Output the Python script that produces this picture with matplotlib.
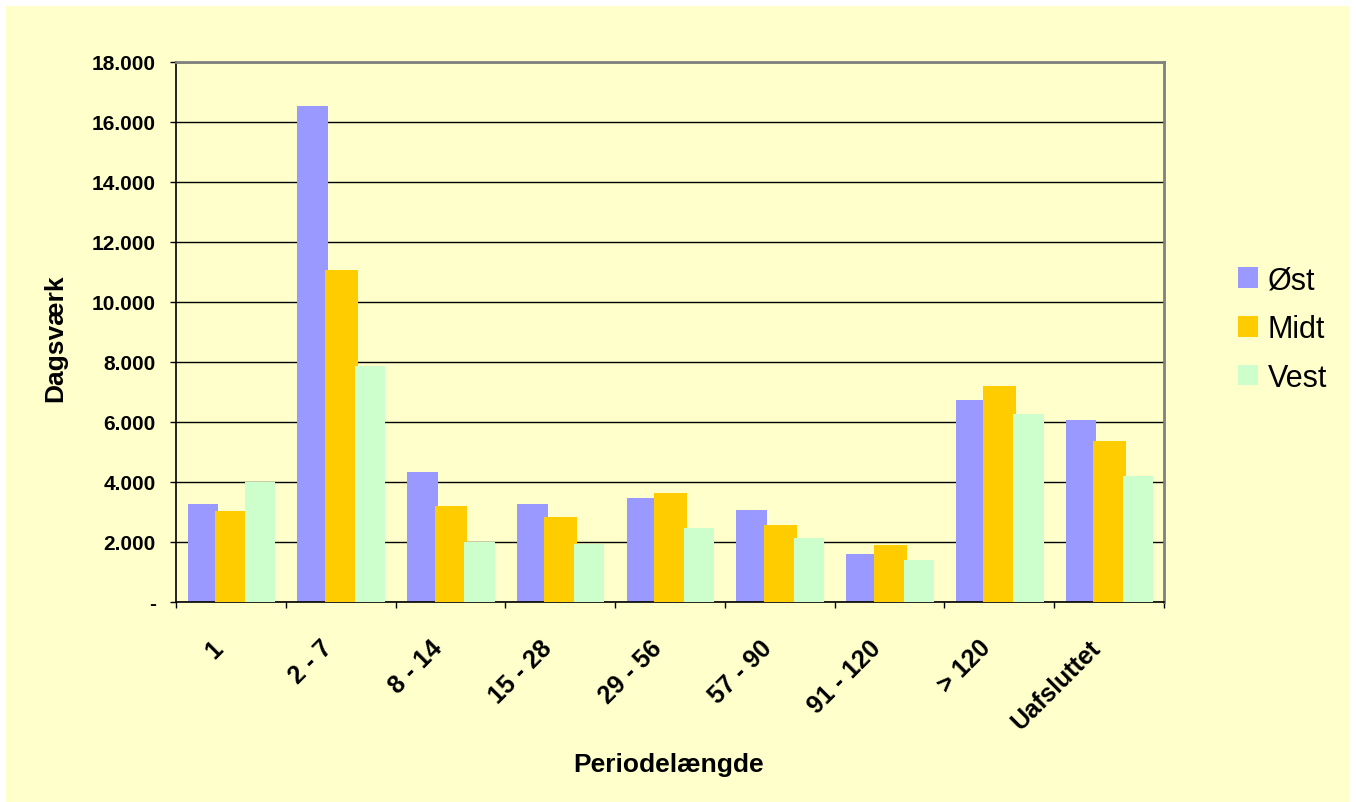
import matplotlib
matplotlib.use("Agg")
import matplotlib.pyplot as plt
import matplotlib.transforms as mtransforms
from matplotlib.patches import Rectangle
from matplotlib.ticker import FuncFormatter, FixedLocator
import numpy as np

plt.rcParams['font.family'] = ['Liberation Sans', 'DejaVu Sans']

categories = ["1", "2 - 7", "8 - 14", "15 - 28", "29 - 56", "57 - 90", "91 - 120", "> 120", "Uafsluttet"]
oest = [3270, 16530, 4330, 3270, 3470, 3070, 1600, 6730, 6070]
midt = [3020, 11070, 3210, 2820, 3620, 2560, 1890, 7210, 5360]
vest = [4010, 7870, 2000, 1930, 2470, 2130, 1400, 6270, 4200]
series_names = ["Øst", "Midt", "Vest"]
colors = ["#9999FF", "#FFCC00", "#CCFFCC"]
bg = "#FFFFCC"

W, H = 1356, 803
fig = plt.figure(figsize=(W / 100, H / 100), dpi=100, facecolor="white")
fig.patches.append(Rectangle((6 / W, 0), (1349 - 6) / W, 1 - 7 / H, transform=fig.transFigure,
                             facecolor=bg, edgecolor="none", zorder=-10))

ax = fig.add_axes([176 / W, (H - 603) / H, 988 / W, 540 / H])
ax.set_facecolor(bg)

x = np.arange(len(categories))
ax.bar(x - 0.255, oest, width=0.28, color=colors[0], zorder=2, label=series_names[0])
ax.bar(x + 0.005, midt, width=0.30, color=colors[1], zorder=3, label=series_names[1])
ax.bar(x + 0.265, vest, width=0.275, color=colors[2], zorder=4, label=series_names[2])

ax.set_xlim(-0.5, len(categories) - 0.5)
ax.set_ylim(0, 18000)
ax.set_yticks(np.arange(0, 18001, 2000))
ax.yaxis.set_major_formatter(FuncFormatter(lambda v, p: "-" if v == 0 else f"{int(v):,}".replace(",", ".")))
ax.grid(axis="y", color="black", linewidth=1.0, zorder=1)
ax.set_axisbelow(True)

ax.tick_params(axis="y", direction="out", length=4.5, width=1, pad=10, labelsize=15)
for t in ax.get_yticklabels():
    t.set_fontweight("bold")

# category boundaries as tick marks, labels at centres
ax.xaxis.set_minor_locator(FixedLocator(np.arange(-0.5, len(categories), 1.0)))
ax.tick_params(axis="x", which="minor", direction="out", length=4.5, width=1)
ax.set_xticks(x)
ax.set_xticklabels(categories, rotation=45, ha="right", va="center", rotation_mode="anchor",
                   fontsize=18, fontweight="bold")
ax.tick_params(axis="x", which="major", length=0, pad=30)
offset = mtransforms.ScaledTranslation(-12 / 100, 0, fig.dpi_scale_trans)
for t in ax.get_xticklabels():
    t.set_transform(t.get_transform() + offset)

for s in ["left", "bottom"]:
    ax.spines[s].set_color("black")
    ax.spines[s].set_linewidth(1.2)
for s in ["top", "right"]:
    ax.spines[s].set_color("#808080")
    ax.spines[s].set_linewidth(2)

fig.text(669 / W, 1 - 765 / H, "Periodelængde", ha="center", va="center", fontsize=19, fontweight="bold")
fig.text(55 / W, 1 - 338 / H, "Dagsværk", ha="center", va="center", rotation=90, fontsize=19, fontweight="bold")

fig.legend(loc="upper left", bbox_to_anchor=(1238 / W, 1 - 266 / H), frameon=False, fontsize=22,
           borderpad=0, borderaxespad=0, handlelength=0.66, handleheight=0.66,
           handletextpad=0.32, labelspacing=0.62)

fig.savefig("out.png", dpi=100, facecolor="white")
